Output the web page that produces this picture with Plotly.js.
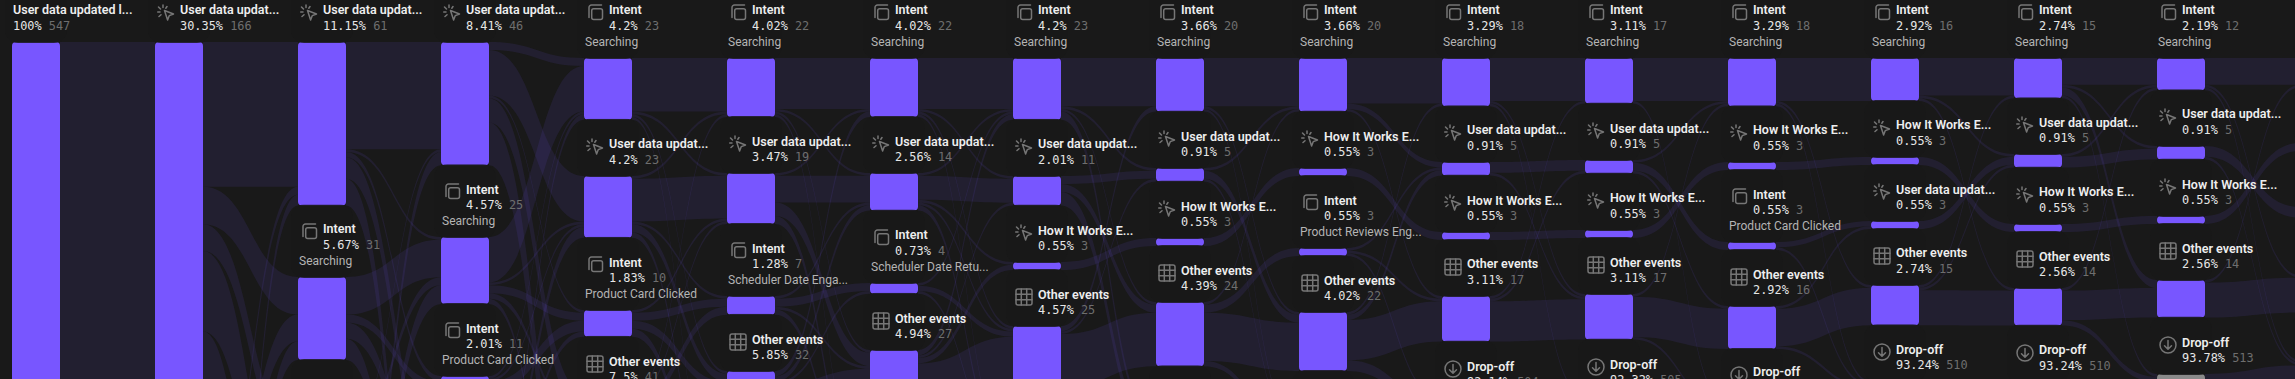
<!DOCTYPE html>
<html><head><meta charset="utf-8">
<script src="https://cdn.plot.ly/plotly-3.0.1.min.js"></script>
<style>
html,body{margin:0;padding:0;background:#191919;overflow:hidden;width:2295px;height:379px}
#chart{width:2400px;height:1466px}
.node-rect{rx:4px;ry:4px;shape-rendering:auto !important}
</style></head><body><div id="chart"></div>
<script>
// ---------- data ----------
const columnKinds = ['U','USOD','USIOD','USIOD','SUIOD','SUIOD','SUIOD','SUHOD','SUHOD','SHIOD','SUHOD','SUHOD','SHIOD','SHUOD','SUHOD','SUHOD','SHUOD'];
const columnCounts = [[547],[166,60,90,231],[61,31,20,70,365],[46,25,11,62,403],[23,23,10,41,450],[22,19,7,32,467],[22,14,4,27,480],[23,11,3,25,485],[20,5,3,24,495],[20,3,3,22,499],[18,5,3,17,504],[17,5,3,17,505],[18,3,3,16,507],[16,3,3,15,510],[15,5,3,14,510],[12,5,3,14,513],[11,3,4,14,515]];
const columnPercents = [['100%'],['30.35%',null,null,null],['11.15%','5.67%',null,null,null],['8.41%','4.57%','2.01%',null,null],['4.2%','4.2%','1.83%','7.5%',null],['4.02%','3.47%','1.28%','5.85%',null],['4.02%','2.56%','0.73%','4.94%',null],['4.2%','2.01%','0.55%','4.57%',null],['3.66%','0.91%','0.55%','4.39%',null],['3.66%','0.55%','0.55%','4.02%',null],['3.29%','0.91%','0.55%','3.11%','92.14%'],['3.11%','0.91%','0.55%','3.11%','92.32%'],['3.29%','0.55%','0.55%','2.92%','92.69%'],['2.92%','0.55%','0.55%','2.74%','93.24%'],['2.74%','0.91%','0.55%','2.56%','93.24%'],['2.19%','0.91%','0.55%','2.56%','93.78%'],[null,null,null,null,null]];
const kindTitles = {U:'User data updat...',S:'Intent',I:'Intent',H:'How It Works E...',O:'Other events',D:'Drop-off'};
const firstTitle = 'User data updated l...';
const searchingSubtitle = 'Searching';
const intentSubtitles = {2:'Product Card Clicked',3:'Product Card Clicked',4:'Product Card Clicked',5:'Scheduler Date Enga...',6:'Scheduler Date Retu...',9:'Product Reviews Eng...',12:'Product Card Clicked'};
const flows = [
['0U','1U',166],['0U','1S',60],['0U','1O',90],['0U','1D',231],
['1U','2U',54],['1U','2S',14],['1U','2I',10],['1U','2O',30],['1U','2D',58],['1S','2U',3],['1S','2S',10],['1S','2I',5],['1S','2O',12],['1S','2D',30],['1O','2U',4],['1O','2S',7],['1O','2I',5],['1O','2O',28],['1O','2D',46],['1D','2D',231],
['2U','3U',40],['2U','3S',1],['2U','3I',2],['2U','3O',8],['2U','3D',10],['2S','3S',14],['2S','3I',3],['2S','3O',6],['2S','3D',8],['2I','3U',1],['2I','3S',3],['2I','3I',4],['2I','3O',6],['2I','3D',6],['2O','3U',5],['2O','3S',7],['2O','3I',2],['2O','3O',42],['2O','3D',14],['2D','3D',365],
['3U','4S',3],['3U','4U',17],['3U','4I',1],['3U','4O',9],['3U','4D',16],['3S','4S',17],['3S','4U',1],['3S','4I',3],['3S','4O',2],['3S','4D',2],['3I','4S',1],['3I','4U',1],['3I','4I',4],['3I','4O',3],['3I','4D',2],['3O','4S',2],['3O','4U',4],['3O','4I',2],['3O','4O',27],['3O','4D',27],['3D','4D',403],
['4S','5S',20],['4S','5U',1],['4S','5O',1],['4S','5D',1],['4U','5S',1],['4U','5U',16],['4U','5I',1],['4U','5O',3],['4U','5D',2],['4I','5U',1],['4I','5I',3],['4I','5O',3],['4I','5D',3],['4O','5S',1],['4O','5U',1],['4O','5I',3],['4O','5O',25],['4O','5D',11],['4D','5D',450],
['5S','6S',19],['5S','6U',1],['5S','6O',1],['5S','6D',1],['5U','6S',1],['5U','6U',10],['5U','6O',5],['5U','6D',3],['5I','6U',1],['5I','6I',3],['5I','6O',1],['5I','6D',2],['5O','6S',2],['5O','6U',2],['5O','6I',1],['5O','6O',20],['5O','6D',7],['5D','6D',467],
['6S','7S',19],['6S','7U',1],['6S','7O',1],['6S','7D',1],['6U','7S',1],['6U','7U',9],['6U','7H',1],['6U','7O',1],['6U','7D',2],['6I','7S',1],['6I','7O',2],['6I','7D',1],['6O','7S',2],['6O','7U',1],['6O','7H',2],['6O','7O',21],['6O','7D',1],['6D','7D',480],
['7S','8S',18],['7S','8U',1],['7S','8O',1],['7S','8D',3],['7U','8U',3],['7U','8O',3],['7U','8D',5],['7H','8H',3],['7O','8S',2],['7O','8U',1],['7O','8O',20],['7O','8D',2],['7D','8D',485],
['8S','9S',18],['8S','9O',1],['8S','9D',1],['8U','9S',1],['8U','9O',3],['8U','9D',1],['8H','9H',3],['8O','9S',1],['8O','9I',3],['8O','9O',18],['8O','9D',2],['8D','9D',495],
['9S','10S',17],['9S','10U',2],['9S','10O',1],['9H','10H',3],['9I','10U',1],['9I','10O',1],['9I','10D',1],['9O','10S',1],['9O','10U',2],['9O','10O',15],['9O','10D',4],['9D','10D',499],
['10S','11S',16],['10S','11O',1],['10S','11D',1],['10U','11U',4],['10U','11O',1],['10H','11H',3],['10O','11S',1],['10O','11U',1],['10O','11O',15],['10D','11D',504],
['11S','12S',16],['11S','12D',1],['11U','12S',1],['11U','12I',3],['11U','12O',1],['11H','12H',3],['11O','12S',1],['11O','12O',15],['11O','12D',1],['11D','12D',505],
['12S','13S',16],['12S','13O',1],['12S','13D',1],['12H','13H',3],['12I','13U',2],['12I','13D',1],['12O','13U',1],['12O','13O',14],['12O','13D',1],['12D','13D',507],
['13S','14S',14],['13S','14U',1],['13S','14O',1],['13H','14H',3],['13U','14U',3],['13O','14S',1],['13O','14U',1],['13O','14O',13],['13D','14D',510],
['14S','15S',10],['14S','15U',1],['14S','15O',3],['14S','15D',1],['14U','15S',1],['14U','15U',4],['14H','15H',3],['14O','15S',1],['14O','15O',11],['14O','15D',2],['14D','15D',510],
['15S','16S',10],['15S','16O',1],['15S','16D',1],['15U','16U',4],['15U','16D',1],['15H','16H',3],['15O','16S',1],['15O','16O',13],['15D','16D',513]
];
// ---------- layout in pixels ----------
const W = 2400, H = 1466, PX_PER_COUNT = H / 547, NODE_W = 48, COL_STEP = 143, COL_LEFT = 12;
const columnTops = [[42],[42,550,780,1080],[42,277,431,540,790],[42,237,376,460,690],[58,176,310,393,560],[58,173,296,371,510],[58,173,283,350,480],[58,176,262,326,450],[58,168,238,302,420],[58,168,248,312,425],[58,162,232,296,398],[58,160,230,294,396],[58,162,242,306,404],[58,157,221,285,381],[58,154,224,288,382],[58,146,216,280,374],[58,143,207,275,360]];
const PURPLE = '#7856FF', GRAY = '#8a8a8a', LINK = 'rgba(120,86,255,0.1)', BG = '#191919';
const ICON = '#767676';
function uri(inner, vw, vh){return 'data:image/svg+xml;utf8,'+encodeURIComponent(`<svg xmlns="http://www.w3.org/2000/svg" viewBox="0 0 ${vw} ${vh}" preserveAspectRatio="none">${inner}</svg>`);}
const S = `fill="none" stroke="${ICON}" stroke-width="1.5" stroke-linecap="round" stroke-linejoin="round"`;
const ICONS = {
 copy: uri(`<path d="M3 13.5V3.5A2.5 2.5 0 0 1 5.5 1H15.5" ${S}/><rect x="5.7" y="4.7" width="10.8" height="10.8" rx="2" ${S}/>`,18,18),
 click: uri(`<path d="M7.5 6.5L16.5 10L12.3 11.6L10.6 16Z" ${S}/><path d="M6 1V3.5M1.5 3L3.5 5M.7 8H3M2 12.5L4 10.8M10 2.5L8.8 4.2" ${S}/>`,18,18),
 grid: uri(`<rect x="1" y="1" width="16" height="16" rx="2" ${S}/><path d="M6.3 1V17M11.7 1V17M1 6.3H17M1 11.7H17" ${S}/>`,18,18),
 drop: uri(`<circle cx="9" cy="9" r="8" ${S}/><path d="M9 4.5V13M5.5 9.7L9 13.2L12.5 9.7" ${S}/>`,18,18)
};
const kindIcon = {U:'click',H:'click',S:'copy',I:'copy',O:'grid',D:'drop'};

// ---------- build ----------
const idIndex = {}, nodeX = [], nodeY = [], nodeColors = [], annotations = [], images = [], icons = [];
function px(x){return x/W;} function py(y){return 1-y/H;}
function text(x,y,t,font){annotations.push({xref:'paper',yref:'paper',x:px(x),y:py(y),xanchor:'left',yanchor:'middle',showarrow:false,borderpad:0,text:t,align:'left',font});}
const TITLE = {family:'Roboto, sans-serif',size:12.5,color:'#eeeeee',weight:600};
const MONO = {family:'"DejaVu Sans Mono", monospace',size:11.9,color:'#e6e6e6'};
const SUB = {family:'Roboto, sans-serif',size:12,color:'#b4b4b4'};
columnKinds.forEach((kinds,c)=>{
  const left = COL_LEFT + c*COL_STEP;
  [...kinds].forEach((k,i)=>{
    const top = columnTops[c][i], count = columnCounts[c][i], h = count*PX_PER_COUNT;
    idIndex[c+k] = nodeX.length;
    nodeX.push((left+NODE_W/2)/W);
    nodeY.push((top+h/2)/H);
    nodeColors.push(k==='D'?GRAY:PURPLE);
    // dark backing behind the label gap
    const prevBottom = i ? columnTops[c][i-1]+columnCounts[c][i-1]*PX_PER_COUNT : -20;
    if(top < 440){
      const bw = NODE_W+14, bh = top-prevBottom+2;
      images.push({source:uri(`<rect width="${bw}" height="${bh}" rx="13" fill="${BG}" fill-opacity="0.86"/>`,bw,bh),xref:'paper',yref:'paper',x:px(left-7),y:py(prevBottom-1),sizex:bw/W,sizey:bh/H,sizing:'stretch',xanchor:'left',yanchor:'top',layer:'above'});
    }
    const pct = columnPercents[c][i];
    if(pct===null) return;
    const sub = k==='S'?searchingSubtitle:(k==='I'?intentSubtitles[c]:null);
    const titleY = top-(sub?48:32);
    const tx = c===0 ? left : left+24;
    text(tx,titleY,c===0?firstTitle:kindTitles[k],TITLE);
    text(tx,titleY+16,`${pct}&nbsp;<span style="fill:#6e6e6e;color:#6e6e6e">${count}</span>`,MONO);
    if(sub) text(left,titleY+32,sub,SUB);
    if(c>0) icons.push({source:ICONS[kindIcon[k]],xref:'paper',yref:'paper',x:px(left+2),y:py(titleY-6),sizex:18/W,sizey:18/H,sizing:'stretch',xanchor:'left',yanchor:'top',layer:'above'});
  });
});
const linkSource = flows.map(f=>idIndex[f[0]]), linkTarget = flows.map(f=>idIndex[f[1]]), linkValue = flows.map(f=>f[2]);
const trace = {type:'sankey',arrangement:'fixed',orientation:'h',
  hoverinfo:'none',
  node:{thickness:NODE_W,pad:0,x:nodeX,y:nodeY,color:nodeColors,line:{width:0},label:nodeX.map(()=>''),hoverinfo:'none'},
  link:{source:linkSource,target:linkTarget,value:linkValue,color:LINK,line:{width:0},hoverinfo:'none'}};
const layout = {width:W,height:H,margin:{l:0,r:0,t:0,b:0,pad:0},paper_bgcolor:BG,plot_bgcolor:BG,showlegend:false,annotations,images:images.concat(icons)};
Plotly.newPlot('chart',[trace],layout,{displayModeBar:false,responsive:false}).then(()=>{
  const svg = document.querySelector('.main-svg');
  const sankey = svg.querySelector('.sankey'), above = svg.querySelector('.layer-above');
  if(sankey && above) above.parentNode.insertBefore(sankey, above);
});
</script></body></html>
